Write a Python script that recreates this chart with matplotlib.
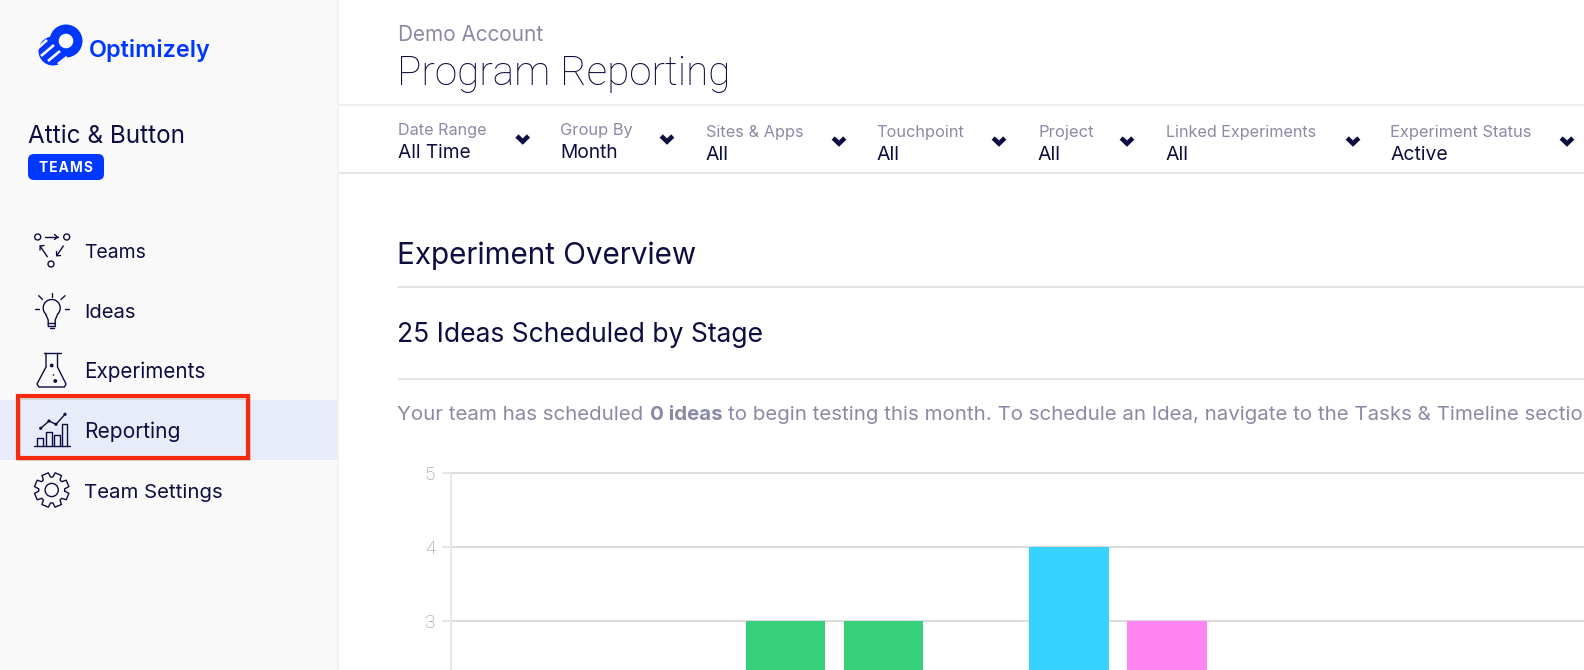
import numpy as np
import matplotlib
matplotlib.use("Agg")
import matplotlib.pyplot as plt
from matplotlib.patches import Rectangle, FancyBboxPatch, Circle

W, H = 1584, 670
FONT = "Inter"
LIGHT = "Roboto"
NAVY = "#0d0d3f"
MUTED = "#8b8aa6"
BLUE = "#0037ff"

# ---------- chart data ----------
months = ["Month A", "Month B"]
first_series = [3, 4]
second_series = [3, 3]
first_colors = ["#36d07a", "#36d3ff"]
second_colors = ["#36d07a", "#ff85f2"]
y_ticks = [3, 4, 5]

# ---------- page text ----------
nav_items = ["Teams", "Ideas", "Experiments", "Reporting", "Team Settings"]
filter_labels = ["Date Range", "Group By", "Sites & Apps", "Touchpoint",
                 "Project", "Linked Experiments", "Experiment Status"]
filter_values = ["All Time", "Month", "All", "All", "All", "All", "Active"]

fig = plt.figure(figsize=(W / 100, H / 100), dpi=100, facecolor="white")
ui = fig.add_axes([0, 0, 1, 1], zorder=1)
ui.set_xlim(0, W)
ui.set_ylim(H, 0)
ui.axis("off")
renderer = fig.canvas.get_renderer()


def fit(s, x, y, width, color=NAVY, family=FONT, weight="normal", va="center_baseline", ha="left", **kw):
    t = ui.text(x, y, s, color=color, family=family, weight=weight, va=va, ha=ha, fontsize=10, **kw)
    w = t.get_window_extent(renderer).width
    t.set_fontsize(10 * width / w)
    return t


def line(xs, ys, lw=1.0, color=NAVY, **kw):
    ui.plot(xs, ys, lw=lw, color=color, solid_capstyle="round", solid_joinstyle="round", **kw)


def ring(x, y, r, lw=1.0, color=NAVY, fill="none"):
    ui.add_patch(Circle((x, y), r, fc=fill, ec=color, lw=lw))


# ---------- sidebar ----------
ui.add_patch(Rectangle((0, 0), 337, H, fc="#f9f9fa", ec="none"))
ui.add_patch(Rectangle((337, 0), 2.0, H, fc="#f1f1f1", ec="none"))
ui.add_patch(Rectangle((0, 400), 337, 60, fc="#e8ecf8", ec="none"))

# logo
ui.add_patch(Circle((53, 51), 14.5, fc=BLUE, ec="none"))
for (x0, y0, x1, y1) in [(37, 49, 47, 40), (41, 56, 54, 45), (48, 61, 60, 51), (58, 64, 67, 57)]:
    ui.plot([x0, x1], [y0, y1], lw=1.9, color="#f9f9fa", solid_capstyle="butt")
ui.add_patch(Circle((66, 41), 16.5, fc=BLUE, ec="none"))
ui.add_patch(Circle((66, 41), 7.3, fc="#f9f9fa", ec="none"))
fit("Optimizely", 88.5, 48.5, 121, color=BLUE, weight="semibold")

fit("Attic & Button", 28, 134, 157)
ui.add_patch(FancyBboxPatch((34, 160), 64, 14, boxstyle="round,pad=6,rounding_size=6", fc=BLUE, ec="none"))
fit("T\u200aE\u200aA\u200aM\u200aS", 39, 167, 54, color="white", weight="bold")

for name, y, w in zip(nav_items, [250.5, 310.5, 370, 430, 490.5], [62, 52, 122, 97, 139]):
    fit(name, 84.5, y, w)

# Teams icon
ring(37.7, 237, 3); ring(66.7, 237, 3); ring(51, 264, 3)
line([45, 57.5], [237, 237]); line([54.5, 57.5, 54.5], [234.5, 237, 239.5])
line([47.3, 40], [256.7, 246]); line([40, 40.3, 44], [250, 246, 245.5])
line([63.3, 56.7], [246, 255.7]); line([56.5, 56.7, 60.5], [251.5, 255.7, 255.5])

# Ideas icon
theta = np.radians(np.linspace(-45, 225, 60))
line(51.7 + 8.5 * np.cos(theta), 308 - 8.5 * np.sin(theta))
line([45.7, 48.2, 48.2], [314, 320, 326]); line([57.7, 55.2, 55.2], [314, 320, 326])
line([48.2, 55.2], [323, 323]); line([48.2, 55.2], [326, 326]); line([49.5, 54], [328, 328])
line([35, 39], [309, 309]); line([64.5, 68.5], [309, 309]); line([51.7, 51.7], [293, 297])
line([38.7, 42.5], [295.7, 299.5]); line([65, 61], [295.7, 299.5])

# Experiments icon
line([43.5, 60.5], [353.3, 353.3])
line([46, 46, 37, 39, 64.5, 66, 57.5, 57.5],
     [353.3, 367, 384, 387, 387, 384, 367, 353.3])
for x, y, r in [(51.7, 365.5, 1.9), (53.5, 375, 0.8), (55.3, 381, 1.9)]:
    ui.add_patch(Circle((x, y), r, fc=NAVY, ec="none"))

# Reporting icon
line([34.3, 70], [445.7, 445.7])
for x0, x1, top in [(37.3, 43.3, 438.3), (45.7, 51.7, 431.7), (54, 60, 435), (62.3, 66.7, 424.3)]:
    line([x0, x0, x1, x1], [445.7, top, top, 445.7])
lx = [40.7, 49, 56, 65]
ly = [428.3, 421, 424.3, 414.3]
line(lx, ly)
for x, y in zip(lx, ly):
    ui.add_patch(Circle((x, y), 1.6, fc=NAVY, ec="none"))

# Gear icon
cx, cy = 51.7, 490
ang, rad = [], []
for k in range(8):
    c = k * np.pi / 4 + np.pi / 8
    ang += [c - 0.30, c - 0.20, c + 0.20, c + 0.30]
    rad += [13.0, 17.5, 17.5, 13.0]
ang = np.array(ang + [ang[0]])
rad = np.array(rad + [rad[0]])
line(cx + rad * np.cos(ang), cy + rad * np.sin(ang))
ring(cx, cy, 6.6)

# red highlight
ui.add_patch(Rectangle((18.5, 397.5), 230, 61, fc="none", ec="#999999", lw=3.0, alpha=0.35, zorder=4))
ui.add_patch(Rectangle((18, 396), 230, 61.5, fc="none", ec="#f52a0e", lw=3.0, zorder=5))

# ---------- header ----------
fit("Demo Account", 397.5, 33, 146, color=MUTED)
fit("Program Reporting", 397, 70, 334, family=LIGHT, weight="light")
ui.add_patch(Rectangle((339, 104), W, 2, fc="#efefef", ec="none"))
ui.add_patch(Rectangle((339, 172), W, 2, fc="#e6e6e6", ec="none"))

# filters
fx = [398, 560.5, 706, 876.5, 1038, 1166, 1390.5]
lw_ = [89, 73, 98, 88, 56, 151, 142]
vw = [73, 58, 23, 23, 23, 23, 58]
cx_ = [522.7, 667, 839, 999, 1127, 1353, 1567]
row = [(128.5, 151, 139)] * 2 + [(130.5, 153, 141)] * 5
for x, lab, val, a, b, c, (yl, yv, yc) in zip(fx, filter_labels, filter_values, lw_, vw, cx_, row):
    fit(lab, x, yl, a, color=MUTED)
    fit(val, x, yv, b)
    ui.plot([c - 5.8, c, c + 5.8], [yc - 3.0, yc + 2.6, yc - 3.0], lw=3.3, color=NAVY,
            solid_capstyle="butt", solid_joinstyle="miter")

# section headings
fit("Experiment Overview", 397, 253, 301)
ui.add_patch(Rectangle((398, 286), W, 1.8, fc="#e3e3e3", ec="none"))
fit("25 Ideas Scheduled by Stage", 397, 332, 367)
ui.add_patch(Rectangle((398, 378), W, 2, fc="#e3e3e3", ec="none"))

# paragraph with bold run
py = 412.5
t1 = fit("Your team has scheduled ", 397, py, 253, color=MUTED)
fs = t1.get_fontsize()
t2 = ui.text(650, py, "0 ideas", color=MUTED, family=FONT, weight="bold", fontsize=fs, va="center_baseline")
x3 = 650 + t2.get_window_extent(renderer).width + 5
ui.text(x3, py, "to begin testing this month. To schedule an Idea, navigate to the Tasks & Timeline section",
        color=MUTED, family=FONT, fontsize=fs, va="center_baseline")

# ---------- chart ----------
axis_x, top_y, px_per_unit = 451.0, 472.7, 74.2
group_px, center0, bar_px, offset_px = 283.5, 834.5, 79.5, 48.8
ax = fig.add_axes([axis_x / W, 0, 1 - axis_x / W, (H - top_y) / H], zorder=2)
ax.patch.set_alpha(0)
ax.set_xlim((axis_x - center0) / group_px, (W - center0) / group_px)
ax.set_ylim(5 - (H - top_y) / px_per_unit, 5)

pos = np.arange(len(months))
off = offset_px / group_px
ax.bar(pos - off, first_series, bar_px / group_px, color=first_colors, zorder=3)
ax.bar(pos + off, second_series, bar_px / group_px, color=second_colors, zorder=3)

ax.set_yticks(y_ticks)
ax.set_xticks([])
ax.tick_params(axis="y", length=6.5, width=1.2, color="#e2e2e2", labelcolor="#8c8c8c",
               labelsize=13.5, pad=5)
for lab in ax.get_yticklabels():
    lab.set_family(LIGHT)
    lab.set_fontweight("light")
ax.grid(axis="y", color="#dcdcdc", lw=1.5, zorder=1, clip_on=False)
ax.set_axisbelow(True)
for s in ("top", "right", "bottom"):
    ax.spines[s].set_visible(False)
ax.spines["left"].set_color("#e6e6e6")
ax.spines["left"].set_linewidth(1.3)

fig.savefig("out.png", dpi=100, facecolor="white")
